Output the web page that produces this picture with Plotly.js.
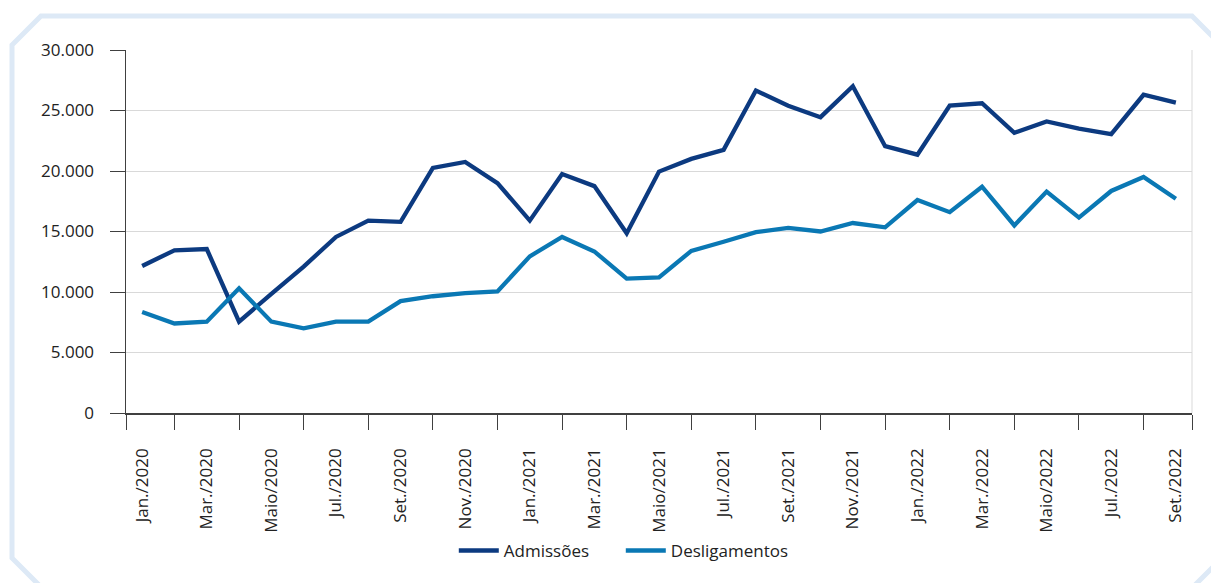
<!DOCTYPE html>
<html>
<head>
<meta charset="utf-8">
<script src="https://cdn.plot.ly/plotly-3.0.1.min.js"></script>
<style>
  html, body { margin: 0; padding: 0; background: #ffffff; }
  #wrap { position: relative; width: 1211px; height: 583px; overflow: hidden; }
  #frame { position: absolute; left: 0; top: 0; }
  #chart { position: absolute; left: 0; top: 0; width: 1211px; height: 583px; }
</style>
</head>
<body>
<div id="wrap">
  <svg id="frame" width="1211" height="583">
    <polygon points="12,45 41,16 1192,16 1225,49 1225,555 1190,590 44,590 12,558" fill="none" stroke="#dde9f6" stroke-width="5"/>
  </svg>
  <div id="chart"></div>
</div>
<script>
const months = [
  "Jan./2020","Fev./2020","Mar./2020","Abr./2020","Maio/2020","Jun./2020",
  "Jul./2020","Ago./2020","Set./2020","Out./2020","Nov./2020","Dez./2020",
  "Jan./2021","Fev./2021","Mar./2021","Abr./2021","Maio/2021","Jun./2021",
  "Jul./2021","Ago./2021","Set./2021","Out./2021","Nov./2021","Dez./2021",
  "Jan./2022","Fev./2022","Mar./2022","Abr./2022","Maio/2022","Jun./2022",
  "Jul./2022","Ago./2022","Set./2022"
];
const admissoes = [
  12150, 13450, 13550, 7550, 9850, 12100,
  14550, 15900, 15800, 20250, 20750, 19000,
  15900, 19750, 18750, 14850, 19950, 21000,
  21750, 26650, 25400, 24450, 27000, 22050,
  21350, 25400, 25600, 23150, 24100, 23500,
  23050, 26300, 25650
];
const desligamentos = [
  8350, 7400, 7550, 10300, 7550, 7000,
  7550, 7550, 9250, 9650, 9900, 10050,
  12950, 14550, 13350, 11100, 11200, 13400,
  14150, 14950, 15300, 15000, 15700, 15350,
  17600, 16600, 18700, 15500, 18300, 16150,
  18350, 19500, 17700
];
const seriesNames = ["Admissões", "Desligamentos"];

const idx = months.map((_, i) => i);
const labelIdx = idx.filter(i => i % 2 === 0);
const tickIdx = [-0.5].concat(idx.filter(i => i % 2 === 1)).concat([months.length - 0.5]);

const FONT = "Open Sans, Noto Sans, sans-serif";
const TXT = "#222222";
const FS = 17;
const traces = [
  { x: idx, y: admissoes, name: seriesNames[0], type: "scatter", mode: "lines",
    line: { color: "#0c3a80", width: 4.3 }, hoverinfo: "skip" },
  { x: idx, y: desligamentos, name: seriesNames[1], type: "scatter", mode: "lines",
    line: { color: "#0a78b4", width: 4.3 }, hoverinfo: "skip" }
];

const layout = {
  width: 1211, height: 583,
  margin: { l: 126, r: 19, t: 50, b: 170 },
  paper_bgcolor: "rgba(0,0,0,0)",
  plot_bgcolor: "rgba(0,0,0,0)",
  separators: ",.",
  font: { family: FONT, size: FS, color: TXT },
  showlegend: true,
  legend: { orientation: "h", x: 0.3075, xanchor: "left", y: -0.38, yanchor: "middle",
            font: { family: FONT, size: FS, color: TXT }, itemwidth: 40,
            entrywidth: 112, entrywidthmode: "pixels" },
  xaxis: {
    range: [-0.5, months.length - 0.5],
    tickmode: "array", tickvals: labelIdx, ticktext: labelIdx.map(i => months[i]),
    tickangle: -90, ticks: "", showgrid: false, zeroline: false,
    showline: true, linecolor: "#404040", linewidth: 1.5,
    ticklabelstandoff: 27,
    tickfont: { family: FONT, size: FS, color: TXT },
    minor: { tickmode: "array", tickvals: tickIdx, ticks: "outside", ticklen: 15,
             tickcolor: "#404040", tickwidth: 1, showgrid: false }
  },
  yaxis: {
    range: [0, 30000], tickmode: "linear", tick0: 0, dtick: 5000, tickformat: ",d",
    showgrid: true, gridcolor: "#d9d9d9", gridwidth: 1,
    zeroline: false, showline: true, linecolor: "#404040", linewidth: 1.5,
    ticks: "outside", ticklen: 15, tickcolor: "#404040", tickwidth: 1,
    ticklabelstandoff: 12,
    tickfont: { family: FONT, size: FS, color: TXT }
  },
  shapes: [
    { type: "line", xref: "paper", yref: "paper", x0: 1, x1: 1, y0: 0, y1: 1,
      line: { color: "#d9d9d9", width: 1 } }
  ]
};

Plotly.newPlot("chart", traces, layout, { displayModeBar: false, staticPlot: true });
</script>
</body>
</html>
